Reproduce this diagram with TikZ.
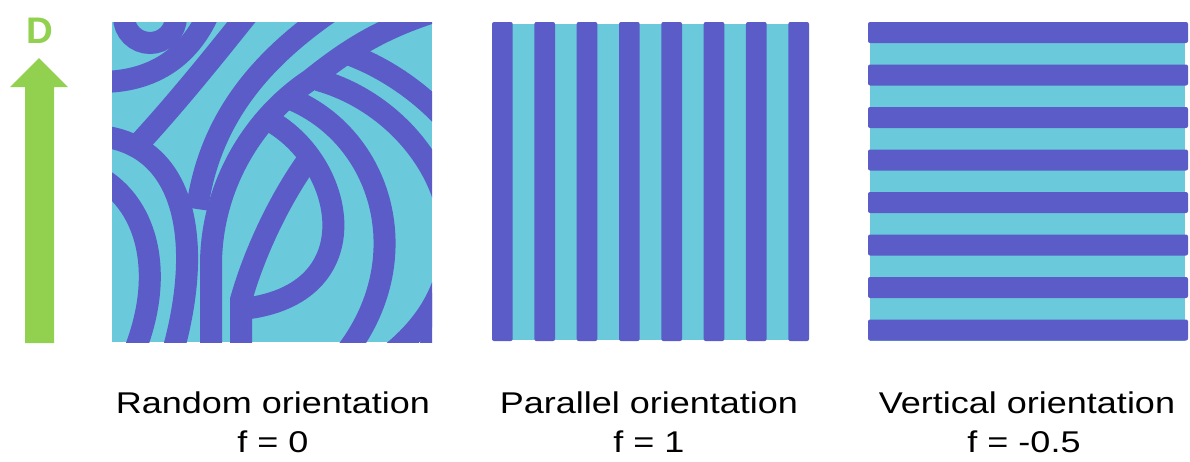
\documentclass[tikz,border=0pt]{standalone}
\usepackage{fontspec}
\setmainfont{Liberation Sans}
\usepackage{graphicx}
\definecolor{band}{RGB}{91,92,199}
\definecolor{field}{RGB}{107,201,220}
\definecolor{dirgreen}{RGB}{146,208,80}
\newcommand{\widetxt}[1]{\scalebox{1.2}[1]{#1}}
\begin{document}
\begin{tikzpicture}[x=1pt,y=-1pt,
  bandline/.style={draw=band,line width=22pt},
  captxt/.style={font=\fontsize{30}{36}\selectfont,anchor=base,inner sep=0pt,text=black},
]
\useasboundingbox (0,0) rectangle (1190,461);
% direction arrow
\fill[dirgreen] (25,343) -- (25,87) -- (10,87) -- (39,58) -- (68,87) -- (54,87) -- (54,343) -- cycle;
\node[font=\fontsize{37}{37}\selectfont\bfseries,text=dirgreen,anchor=base,inner sep=0pt] (dlab) at (40,43) {D};

% random orientation square
\begin{scope}
\clip (112,22) rectangle (432,342);
\fill[field] (112,22) rectangle (432,342);
\draw[bandline] (150,17) circle[radius=26];
\draw[bandline] (100,82) .. controls (160,82) and (195,50) .. (212,5);
\draw[bandline] (255,5) .. controls (215,55) and (175,105) .. (133,150);
\draw[bandline] (100,136) .. controls (185,145) and (205,240) .. (172,355);
\draw[bandline] (95,175) .. controls (145,200) and (168,270) .. (133,355);
\draw[bandline] (340,5) .. controls (265,55) and (210,115) .. (197,209);
\draw[bandline] (211,355) -- (211,265) .. controls (211,190) and (250,120) .. (310,80) .. controls (345,52) and (380,28) .. (440,10);
\draw[bandline] (241,355) -- (241,300) .. controls (255,250) and (282,195) .. (310,157);
\draw[bandline] (272,122) .. controls (345,165) and (370,290) .. (250,308);
\draw[bandline] (293,100) .. controls (385,140) and (420,265) .. (340,360);
\draw[bandline] (318,80) .. controls (434,112) and (516,265) .. (380,362);
\draw[bandline] (345,53) .. controls (380,65) and (420,90) .. (450,125);
\draw[bandline] (454,250) -- (426,365);
\end{scope}

% parallel orientation square
\fill[field] (492,24) rectangle (809,340);
\foreach \k in {0,...,7}
  \fill[band,rounded corners=2pt] ({492+42.33*\k},22) rectangle ++(20.7,319);

% vertical orientation square
\fill[field] (870,22) rectangle (1185,341);
\foreach \k in {0,...,7}
  \fill[band,rounded corners=2pt] (868,{22+42.5*\k}) rectangle ++(320,21);

% captions
\node[captxt] (r1) at (273,413) {\widetxt{Random orientation}};
\node[captxt] (r2) at (273,452) {\widetxt{f = 0}};
\node[captxt] (p1) at (649,413) {\widetxt{Parallel orientation}};
\node[captxt] (p2) at (649,452) {\widetxt{f = 1}};
\node[captxt] (v1) at (1027,413) {\widetxt{Vertical orientation}};
\node[captxt] (v2) at (1024,452) {\widetxt{f = -0.5}};
\end{tikzpicture}
\end{document}
